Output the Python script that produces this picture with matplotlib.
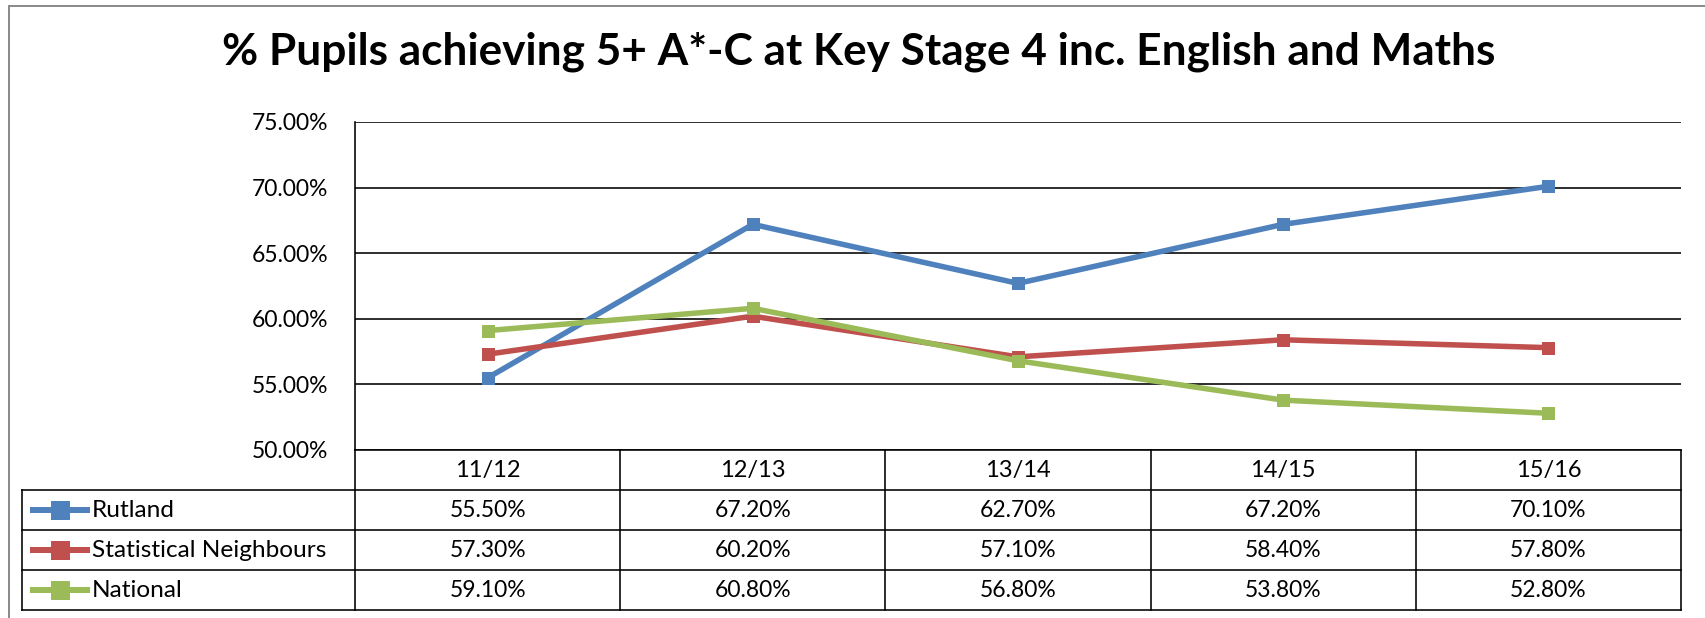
import matplotlib
matplotlib.use("Agg")
import matplotlib.pyplot as plt
from matplotlib.ticker import FuncFormatter
from matplotlib.transforms import blended_transform_factory

# ---- data ----
title = "% Pupils achieving 5+ A*-C at Key Stage 4 inc. English and Maths"
years = ["11/12", "12/13", "13/14", "14/15", "15/16"]
series_names = ["Rutland", "Statistical Neighbours", "National"]
rutland = [55.5, 67.2, 62.7, 67.2, 70.1]
neighbours = [57.3, 60.2, 57.1, 58.4, 57.8]
national = [59.1, 60.8, 56.8, 53.8, 52.8]
y_ticks = [50, 55, 60, 65, 70, 75]

series = [rutland, neighbours, national]
colors = ["#4F81BD", "#C0504D", "#9BBB59"]

plt.rcParams["font.family"] = ["Lato", "DejaVu Sans"]

W, H, DPI = 1705, 618, 100
PT = 72.0 / DPI  # points per pixel

fig = plt.figure(figsize=(W / DPI, H / DPI), dpi=DPI)
fig.patch.set_facecolor("white")

# pixel layout
plot_l, plot_r, plot_t, plot_b = 355, 1681, 122, 450
table_l = 22
row_edges = [450, 489.5, 529.5, 569.5, 609.5]
line_w = 1.6 * PT
num_size = 16.5
header_size = 17

# overlay axis in pixel coordinates (y downwards)
ov = fig.add_axes([0, 0, 1, 1], zorder=0)
ov.set_xlim(0, W)
ov.set_ylim(H, 0)
ov.axis("off")

ax = fig.add_axes([plot_l / W, 1 - plot_b / H, (plot_r - plot_l) / W, (plot_b - plot_t) / H], zorder=1)
ax.patch.set_alpha(0)
ax.set_xlim(-0.5, len(years) - 0.5)
ax.set_ylim(y_ticks[0], y_ticks[-1])
ax.set_yticks(y_ticks)
ax.yaxis.set_major_formatter(FuncFormatter(lambda v, _: f"{v:.2f}%"))
ax.set_xticks([])
ax.tick_params(axis="y", length=0, pad=19, labelsize=num_size, colors="black")
for s in ["top", "right", "bottom"]:
    ax.spines[s].set_visible(False)
ax.spines["left"].set_linewidth(line_w)
ax.spines["left"].set_color("black")
ax.yaxis.grid(True, color="black", linewidth=line_w)
ax.set_axisbelow(True)

for vals, c in zip(series, colors):
    ax.plot(range(len(years)), vals, color=c, linewidth=5.5 * PT, marker="s",
            markersize=13 * PT, markeredgewidth=0, solid_joinstyle="miter", zorder=3)

# outer chart frame
ov.plot([9, 9], [6, H], color="#8c8c8c", linewidth=2 * PT)
ov.plot([9, W], [6, 6], color="#8c8c8c", linewidth=2 * PT)

# data table
tr = blended_transform_factory(ax.transData, ov.transData)
col_edges = [i - 0.5 for i in range(len(years) + 1)]
for xe in col_edges:
    ov.plot([xe, xe], [row_edges[0], row_edges[-1]], color="black", linewidth=line_w,
            transform=tr, solid_capstyle="projecting")
ov.plot([table_l, table_l], [row_edges[1], row_edges[-1]], color="black", linewidth=line_w,
        solid_capstyle="projecting")
for ye in row_edges:
    ov.plot([col_edges[0], col_edges[-1]], [ye, ye], color="black", linewidth=line_w,
            transform=tr, solid_capstyle="projecting")
for ye in row_edges[1:]:
    ov.plot([table_l, plot_l], [ye, ye], color="black", linewidth=line_w)

row_mid = [(a + b) / 2 for a, b in zip(row_edges[:-1], row_edges[1:])]
for i, yr in enumerate(years):
    ov.text(i, row_mid[0] + 1, yr, transform=tr, ha="center", va="center", fontsize=header_size)

name_texts = []
for r, (name, vals, c) in enumerate(zip(series_names, series, colors)):
    ym = row_mid[r + 1]
    ov.plot([33, 87], [ym, ym], color=c, linewidth=6 * PT)
    ov.plot([60], [ym], marker="s", color=c, markersize=19 * PT, markeredgewidth=0)
    name_texts.append(ov.text(92, ym + 1, name, ha="left", va="center", fontsize=17))
    for i, v in enumerate(vals):
        ov.text(i, ym + 1, f"{v:.2f}%", transform=tr, ha="center", va="center", fontsize=num_size)

# title and series names sized to their box widths
t = ov.text(859, 65, title, ha="center", va="baseline", fontsize=30, fontweight="bold")
fig.canvas.draw()
rend = fig.canvas.get_renderer()
w = t.get_window_extent(rend).width
t.set_fontsize(30 * 1272 / w)
longest = max(name_texts, key=lambda tx: tx.get_window_extent(rend).width)
scale = 234 / longest.get_window_extent(rend).width
for tx in name_texts:
    tx.set_fontsize(17 * scale)

fig.savefig("out.png", dpi=DPI, facecolor="white")
